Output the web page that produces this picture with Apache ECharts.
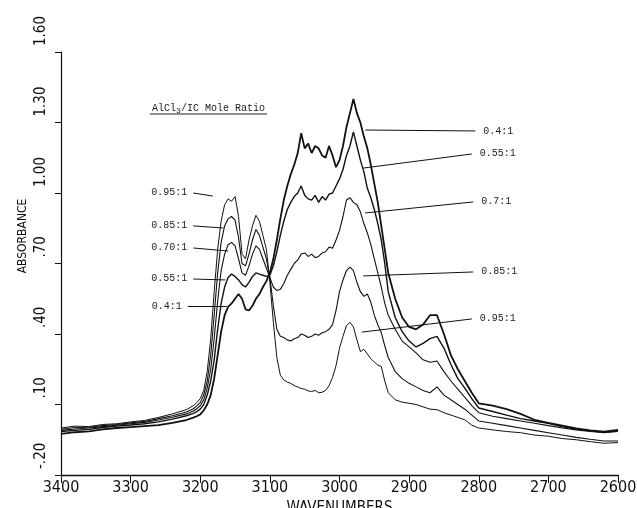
<!DOCTYPE html>
<html>
<head>
<meta charset="utf-8">
<script src="https://cdn.jsdelivr.net/npm/echarts@6/dist/echarts.min.js"></script>
<style>
html, body { margin: 0; padding: 0; background: #fff; }
#spectra { width: 637px; height: 508px; }
</style>
</head>
<body>
<div id="spectra"></div>
<script>
// wavenumber grid (cm-1)
var wavenumbers = [
    3400,3380,3360,3340,3320,3300,3280,3260,3240,3220,
    3210,3205,3200,3195,3190,3185,3180,3175,3170,3165,
    3160,3155,3150,3145,3140,3135,3130,3125,3120,3115,
    3110,3105,3100,3095,3090,3085,3080,3075,3070,3065,
    3060,3055,3050,3045,3040,3035,3030,3025,3020,3015,
    3010,3005,3000,2995,2990,2985,2980,2975,2970,2965,
    2960,2955,2950,2945,2940,2935,2930,2920,2910,2900,
    2890,2880,2870,2860,2850,2840,2830,2820,2810,2800,
    2780,2760,2740,2720,2700,2680,2660,2640,2620,2600
]

var abs040 = [
    -0.025,-0.018,-0.014,-0.006,0.000,0.004,0.008,0.012,0.022,0.034,
    0.044,0.050,0.058,0.075,0.100,0.140,0.210,0.310,0.410,0.480,
    0.515,0.530,0.550,0.570,0.550,0.505,0.500,0.520,0.550,0.570,
    0.600,0.625,0.660,0.720,0.800,0.890,0.970,1.030,1.080,1.120,
    1.170,1.255,1.190,1.210,1.170,1.200,1.190,1.160,1.150,1.200,
    1.160,1.110,1.140,1.200,1.280,1.340,1.400,1.340,1.300,1.240,
    1.190,1.120,1.040,0.960,0.860,0.760,0.660,0.550,0.470,0.430,
    0.420,0.440,0.480,0.480,0.400,0.310,0.250,0.200,0.150,0.105,
    0.095,0.080,0.060,0.035,0.022,0.010,-0.002,-0.010,-0.015,-0.008
]
var abs055 = [
    -0.015,-0.010,-0.006,0.002,0.008,0.013,0.018,0.026,0.038,0.052,
    0.062,0.070,0.080,0.100,0.140,0.200,0.290,0.420,0.530,0.600,
    0.640,0.655,0.645,0.630,0.610,0.600,0.620,0.645,0.660,0.655,
    0.650,0.645,0.650,0.690,0.750,0.820,0.880,0.930,0.960,0.985,
    1.000,1.030,0.990,0.975,0.970,0.990,0.960,0.985,0.970,0.995,
    1.000,1.030,1.060,1.100,1.160,1.200,1.260,1.200,1.140,1.090,
    1.020,0.980,0.930,0.870,0.800,0.700,0.580,0.470,0.410,0.370,
    0.345,0.360,0.380,0.390,0.340,0.270,0.210,0.170,0.125,0.085,
    0.070,0.055,0.040,0.030,0.020,0.005,-0.005,-0.012,-0.018,-0.012
]
var abs070 = [
    -0.010,-0.004,0.000,0.006,0.012,0.018,0.024,0.034,0.046,0.060,
    0.072,0.082,0.095,0.120,0.170,0.250,0.380,0.540,0.670,0.740,
    0.780,0.790,0.775,0.720,0.660,0.650,0.690,0.740,0.775,0.760,
    0.720,0.680,0.640,0.600,0.585,0.590,0.615,0.650,0.675,0.700,
    0.715,0.740,0.745,0.730,0.740,0.725,0.730,0.745,0.750,0.770,
    0.765,0.800,0.840,0.900,0.970,0.980,0.960,0.950,0.920,0.870,
    0.830,0.780,0.720,0.660,0.600,0.530,0.480,0.420,0.370,0.345,
    0.320,0.290,0.280,0.285,0.240,0.200,0.165,0.130,0.095,0.065,
    0.050,0.040,0.030,0.020,0.010,0.000,-0.008,-0.015,-0.020,-0.015
]
var abs085 = [
    -0.005,0.002,0.003,0.010,0.015,0.022,0.028,0.040,0.052,0.068,
    0.082,0.094,0.108,0.140,0.200,0.310,0.480,0.660,0.790,0.860,
    0.890,0.900,0.885,0.810,0.700,0.690,0.740,0.800,0.845,0.820,
    0.770,0.720,0.640,0.520,0.420,0.390,0.385,0.375,0.370,0.380,
    0.385,0.400,0.395,0.385,0.390,0.400,0.395,0.405,0.410,0.420,
    0.440,0.500,0.580,0.630,0.670,0.685,0.670,0.620,0.580,0.560,
    0.570,0.535,0.480,0.440,0.405,0.350,0.300,0.240,0.210,0.190,
    0.175,0.160,0.150,0.175,0.140,0.120,0.100,0.080,0.055,0.030,
    0.020,0.010,0.000,-0.010,-0.020,-0.030,-0.040,-0.048,-0.055,-0.055
]
var abs095 = [
    0.000,0.008,0.006,0.015,0.018,0.026,0.032,0.045,0.060,0.078,
    0.095,0.108,0.125,0.160,0.240,0.380,0.580,0.760,0.880,0.950,
    0.975,0.965,0.985,0.900,0.740,0.720,0.800,0.860,0.905,0.880,
    0.820,0.760,0.620,0.450,0.300,0.225,0.205,0.195,0.190,0.180,
    0.175,0.168,0.165,0.158,0.155,0.160,0.150,0.152,0.160,0.180,
    0.215,0.265,0.340,0.390,0.435,0.450,0.430,0.375,0.325,0.335,
    0.315,0.295,0.280,0.268,0.262,0.200,0.150,0.120,0.110,0.105,
    0.100,0.090,0.080,0.078,0.065,0.055,0.045,0.035,0.012,0.000,
    -0.008,-0.015,-0.020,-0.030,-0.035,-0.045,-0.050,-0.058,-0.065,-0.062
]

var leftNames = ["0.4:1", "0.55:1", "0.70:1", "0.85:1", "0.95:1"]
var rightNames = ["0.4:1", "0.55:1", "0.7:1", "0.85:1", "0.95:1"]
var curves = [abs040, abs055, abs070, abs085, abs095]

// leader lines, [wn start, abs start, wn end, abs end]
var leftLeaders = [
    [3218, 0.519, 3162, 0.519],
    [3210, 0.634, 3164, 0.630],
    [3210, 0.766, 3160, 0.753],
    [3210, 0.860, 3167, 0.851],
    [3210, 1.000, 3182, 0.987]
]
var rightLeaders = [
    [2963, 1.268, 2805, 1.264],
    [2966, 1.106, 2810, 1.166],
    [2963, 0.915, 2808, 0.962],
    [2966, 0.647, 2808, 0.664],
    [2968, 0.408, 2810, 0.464]
]
var lineWidths = [1.8, 1.4, 1.1, 1.1, 1]

function pairUp(vals) {
    return wavenumbers.map((w, i) => [w, vals[i]])
}

function leaders(i) {
    var l = leftLeaders[i], r = rightLeaders[i]
    return {
        silent: true,
        symbol: ["none", "none"],
        animation: false,
        lineStyle: { color: "#111", width: 1, type: "solid" },
        label: { show: true, fontFamily: "Liberation Mono", fontSize: 10, color: "#222" },
        data: [
            [
                { coord: [l[0], l[1]], label: { position: "start", formatter: leftNames[i], distance: 6 } },
                { coord: [l[2], l[3]] }
            ],
            [
                { coord: [r[0], r[1]] },
                { coord: [r[2], r[3]], label: { position: "end", formatter: rightNames[i], distance: 8 } }
            ]
        ]
    }
}

// 0.70 -> ".70", -0.20 -> "-.20"
function absLabel(v) {
    var s = (Math.round(v * 100) / 100).toFixed(2)
    return s.replace(/^(-?)0\./, "$1.")
}

var axisFont = ["DejaVu Sans Condensed", "DejaVu Sans", "sans-serif"].join(",")

var chart = echarts.init(document.getElementById("spectra"), null, { renderer: "canvas" })

var option = {
    backgroundColor: "#fff",
    animation: false,
    grid: { left: 61, right: 19, top: 52, bottom: 33, outerBoundsMode: "none" },
    xAxis: {
        type: "value",
        inverse: true,
        min: 2600,
        max: 3400,
        interval: 100,
        name: "WAVENUMBERS",
        nameLocation: "middle",
        nameGap: 24,
        nameTextStyle: { fontFamily: axisFont, fontSize: 15, color: "#111" },
        axisLine: { onZero: false, lineStyle: { color: "#111", width: 1.3 } },
        axisTick: { inside: false, length: 8, lineStyle: { color: "#111" } },
        axisLabel: {
            margin: 5, fontFamily: axisFont, fontSize: 16, color: "#111",
            formatter: (v) => String(v)
        },
        splitLine: { show: false }
    },
    yAxis: {
        type: "value",
        min: -0.2,
        max: 1.6,
        interval: 0.3,
        axisLine: { show: true, onZero: false, lineStyle: { color: "#111", width: 1.2 } },
        axisTick: { show: true, length: 6, lineStyle: { color: "#111" } },
        axisLabel: {
            rotate: 90,
            align: "left",
            verticalAlign: "bottom",
            margin: 12,
            padding: [0, 0, 0, 6],
            fontFamily: axisFont,
            fontSize: 15,
            color: "#111",
            formatter: absLabel
        },
        splitLine: { show: false }
    },
    graphic: [
        {
            type: "text", x: 23, y: 236, rotation: Math.PI / 2,
            style: { text: "ABSORBANCE", fontFamily: axisFont, fontSize: 12, fill: "#111", align: "center", verticalAlign: "middle" }
        },
        {
            type: "text", x: 152, y: 103,
            style: { text: "AlCl", fontFamily: "Liberation Mono", fontSize: 10, fill: "#222" }
        },
        {
            type: "text", x: 176, y: 107,
            style: { text: "3", fontFamily: "Liberation Mono", fontSize: 8, fill: "#222" }
        },
        {
            type: "text", x: 181, y: 103,
            style: { text: "/IC Mole Ratio", fontFamily: "Liberation Mono", fontSize: 10, fill: "#222" }
        },
        {
            type: "line", shape: { x1: 150, y1: 114, x2: 267, y2: 114 },
            style: { stroke: "#222", lineWidth: 1 }
        }
    ],
    series: curves.map((vals, i) => ({
        name: rightNames[i],
        type: "line",
        data: pairUp(vals),
        symbol: "none",
        showSymbol: false,
        lineStyle: { color: "#111", width: lineWidths[i] },
        emphasis: { disabled: true },
        markLine: leaders(i)
    }))
}

chart.setOption(option)
</script>
</body>
</html>
